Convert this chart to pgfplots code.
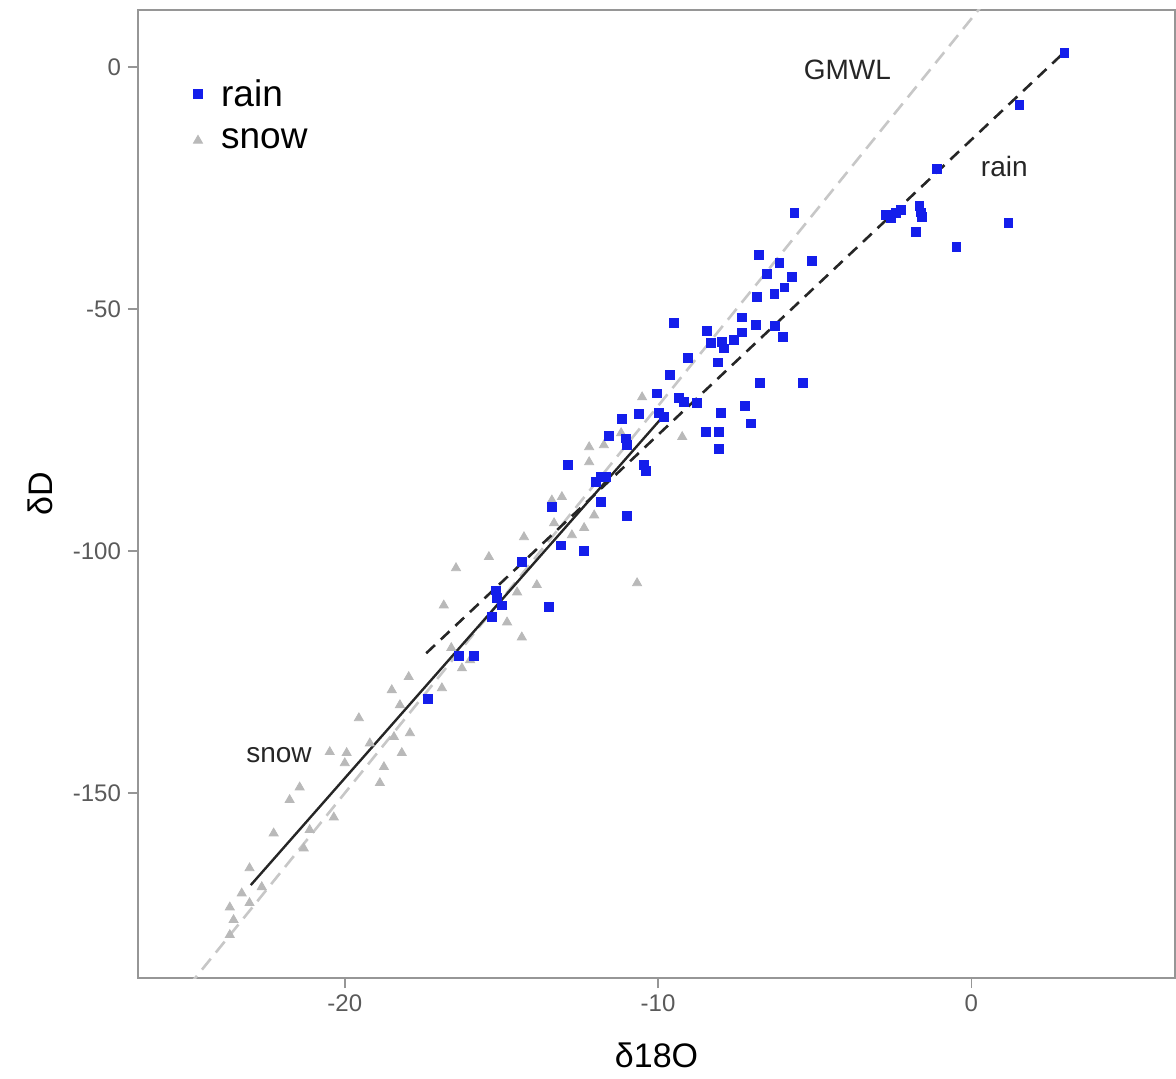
\documentclass[border=0pt]{standalone}
\usepackage{pgfplots}
\pgfplotsset{compat=1.18}
\usepackage{fontspec}
\setmainfont{Liberation Sans}
\definecolor{rainblue}{RGB}{20,30,235}
\definecolor{snowgray}{RGB}{185,185,185}
\definecolor{framegray}{RGB}{150,150,150}
\definecolor{ticklab}{RGB}{90,90,90}
\begin{document}
\begin{tikzpicture}
\useasboundingbox (-69pt,-50pt) rectangle (519pt,489pt);
\begin{axis}[
  at={(0,0)}, anchor=south west,
  scale only axis, width=518.5pt, height=484pt,
  xmin=-26.6, xmax=6.5, ymin=-188.2, ymax=11.8,
  axis line style={framegray, line width=1pt},
  xtick={-20,-10,0}, xticklabels={-20,-10,0},
  ytick={-150,-100,-50,0}, yticklabels={-150,-100,-50,0},
  tick align=outside, major tick length=5pt,
  tick style={framegray, line width=0.8pt},
  xtick pos=bottom, ytick pos=left,
  ticklabel style={font=\fontsize{12}{14}\selectfont, text=ticklab},
  xlabel={δ18O}, ylabel={δD},
  label style={font=\fontsize{17}{20}\selectfont},
  xlabel style={at={(axis description cs:0.5,-0.0795)}, anchor=center},
  ylabel style={at={(axis description cs:-0.0945,0.5)}, anchor=center},
  legend style={at={(rel axis cs:0.045,0.933)}, anchor=north west, draw=none, fill=none,
    font=\fontsize{18.5}{22}\selectfont, row sep=6pt, inner sep=0pt},
  legend cell align=left,
  reverse legend,
  legend image code/.code={\draw[#1] plot coordinates {(0.22cm,0cm)}; \path (0cm,0cm) (0.55cm,0cm);},
]
% GMWL
\addplot[snowgray!80, line width=1.3pt, dash pattern=on 7pt off 4pt, forget plot] coordinates {(-25,-190) (0.5,14)};
% snow points
\addplot[only marks, mark=triangle*, mark size=2.6pt, color=snowgray, mark options={fill=snowgray, draw=snowgray}] coordinates {
(-9.23,-76.4) (-10.51,-68.2) (-11.18,-75.6) (-11.73,-78.1) (-12.20,-78.5) (-12.20,-81.6)
(-13.07,-88.8) (-13.39,-89.5) (-12.04,-92.6) (-12.36,-95.2) (-13.32,-94.2) (-12.75,-96.7)
(-14.28,-97.1) (-15.40,-101.2) (-16.45,-103.5) (-13.87,-107.0) (-14.50,-108.5) (-10.67,-106.6)
(-16.84,-111.2) (-14.82,-114.7) (-14.35,-117.8) (-16.26,-124.2) (-16.90,-128.3) (-17.96,-126.0)
(-18.50,-128.7) (-19.55,-134.5) (-18.24,-131.8) (-17.92,-137.6) (-18.43,-138.4) (-18.18,-141.7)
(-18.75,-144.6) (-18.88,-147.9) (-20.48,-141.5) (-19.94,-141.7) (-20.00,-143.8) (-19.20,-139.7)
(-21.44,-148.8) (-21.76,-151.4) (-20.35,-155.0) (-22.27,-158.3) (-21.31,-161.4) (-21.12,-157.6)
(-23.04,-165.5) (-22.65,-169.4) (-23.29,-170.7) (-23.67,-173.6) (-23.55,-176.2) (-23.67,-179.3)
(-23.04,-172.7) (-16.00,-122.5) (-16.60,-120.0)
};
\addlegendentry{snow}
% rain points
\addplot[only marks, mark=square*, mark size=2.2pt, color=rainblue, mark options={fill=rainblue, draw=rainblue}] coordinates {
(2.97,2.89) (1.53,-7.85) (-1.09,-21.07) (1.18,-32.2) (-0.48,-37.2) (-2.72,-30.6) (-2.56,-31.2)
(-2.40,-30.2) (-2.24,-29.5) (-1.66,-28.7) (-1.60,-30.0) (-1.57,-31.0) (-1.76,-34.1)
(-5.65,-30.2) (-6.77,-38.8) (-6.13,-40.5) (-5.08,-40.1) (-6.52,-42.8) (-5.72,-43.4)
(-5.97,-45.5) (-6.29,-46.9) (-6.84,-47.5) (-9.49,-52.9) (-7.32,-51.7) (-7.32,-54.8)
(-6.87,-53.3) (-6.26,-53.5) (-6.01,-55.8) (-8.43,-54.5) (-8.31,-57.0) (-7.96,-56.8)
(-7.89,-58.1) (-7.57,-56.4) (-9.04,-60.1) (-8.08,-61.0) (-9.62,-63.6) (-6.74,-65.3)
(-5.37,-65.3) (-10.03,-67.4) (-9.33,-68.4) (-9.17,-69.2) (-8.75,-69.4) (-7.22,-70.0)
(-7.03,-73.6) (-7.99,-71.5) (-10.61,-71.7) (-9.97,-71.5) (-9.81,-72.3) (-11.15,-72.7)
(-11.57,-76.2) (-11.02,-76.7) (-10.99,-78.1) (-8.47,-75.4) (-8.05,-75.4) (-8.05,-78.9)
(-10.45,-82.2) (-10.38,-83.5) (-12.88,-82.2) (-11.82,-84.7) (-11.66,-84.7) (-11.98,-85.7)
(-11.82,-89.9) (-13.39,-90.9) (-10.99,-92.8) (-13.10,-98.8) (-12.36,-100.0) (-14.35,-102.3)
(-15.18,-108.1) (-15.14,-109.7) (-14.98,-111.2) (-15.30,-113.6) (-13.48,-111.6)
(-16.36,-121.7) (-15.88,-121.7) (-17.35,-130.6)
};
\addlegendentry{rain}
% rain line
\addplot[black!85, line width=1.3pt, dash pattern=on 6pt off 4pt, forget plot] coordinates {(-17.4,-121.1) (2.97,3.1)};
% snow line
\addplot[black!85, line width=1.2pt, forget plot] coordinates {(-23.0,-169.0) (-9.94,-72.9)};
\node[font=\fontsize{14}{16}\selectfont, text=black!85] at (axis cs:-3.96,-0.6) {GMWL};
\node[font=\fontsize{14}{16}\selectfont, text=black!85] at (axis cs:1.05,-20.5) {rain};
\node[font=\fontsize{14}{16}\selectfont, text=black!85] at (axis cs:-22.1,-142.1) {snow};
\end{axis}
\end{tikzpicture}
\end{document}
